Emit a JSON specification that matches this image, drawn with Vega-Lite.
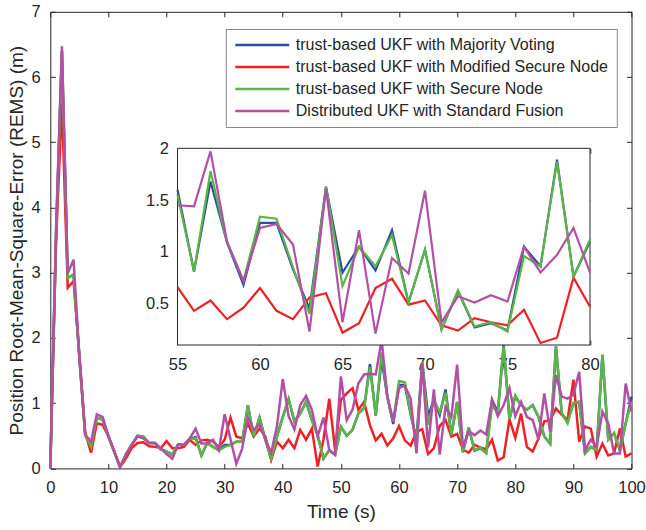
{
"$schema": "https://vega.github.io/schema/vega-lite/v6.json",
"width": 581.2, "height": 456.6,
"autosize": "none",
"padding": {"left": 50.3, "top": 11.8, "right": 14.5, "bottom": 61.6},
"background": "white",
"config": {
  "view": {"stroke": "#262626", "strokeWidth": 1},
  "font": "Liberation Sans",
  "axis": {"labelFont": "Liberation Sans", "titleFont": "Liberation Sans", "labelColor": "#262626", "titleColor": "#262626", "tickColor": "#262626", "domainColor": "#262626", "grid": false, "titleFontWeight": "normal", "labelFontSize": 16.5, "titleFontSize": 19, "labelFlush": false, "labelOverlap": false}
},
"datasets": {
"box": [{"t": 55, "t2": 80, "v": 0.1, "v2": 2}],
"d": [
{"t":0,"s":"A","v":0},{"t":1,"s":"A","v":3.6},{"t":2,"s":"A","v":6.4},{"t":3,"s":"A","v":2.92},{"t":4,"s":"A","v":2.97},{"t":5,"s":"A","v":1.7},{"t":6,"s":"A","v":0.52},{"t":7,"s":"A","v":0.33},{"t":8,"s":"A","v":0.78},{"t":9,"s":"A","v":0.75},
{"t":10,"s":"A","v":0.49},{"t":11,"s":"A","v":0.26},{"t":12,"s":"A","v":0.02},{"t":13,"s":"A","v":0.21},{"t":14,"s":"A","v":0.36},{"t":15,"s":"A","v":0.5},{"t":16,"s":"A","v":0.49},{"t":17,"s":"A","v":0.39},{"t":18,"s":"A","v":0.39},{"t":19,"s":"A","v":0.29},
{"t":20,"s":"A","v":0.26},{"t":21,"s":"A","v":0.21},{"t":22,"s":"A","v":0.37},{"t":23,"s":"A","v":0.36},{"t":24,"s":"A","v":0.45},{"t":25,"s":"A","v":0.48},{"t":26,"s":"A","v":0.2},{"t":27,"s":"A","v":0.39},{"t":28,"s":"A","v":0.33},{"t":29,"s":"A","v":0.28},
{"t":30,"s":"A","v":0.36},{"t":31,"s":"A","v":0.36},{"t":32,"s":"A","v":0.41},{"t":33,"s":"A","v":0.41},{"t":34,"s":"A","v":0.97},{"t":35,"s":"A","v":0.49},{"t":36,"s":"A","v":0.78},{"t":37,"s":"A","v":0.44},{"t":38,"s":"A","v":0.15},{"t":39,"s":"A","v":0.49},
{"t":40,"s":"A","v":0.79},{"t":41,"s":"A","v":1.06},{"t":42,"s":"A","v":0.72},{"t":43,"s":"A","v":0.84},{"t":44,"s":"A","v":1.02},{"t":45,"s":"A","v":0.74},{"t":46,"s":"A","v":0.51},{"t":47,"s":"A","v":0.15},{"t":48,"s":"A","v":0.28},{"t":49,"s":"A","v":0.21},
{"t":50,"s":"A","v":0.64},{"t":51,"s":"A","v":0.5},{"t":52,"s":"A","v":0.59},{"t":53,"s":"A","v":0.84},{"t":54,"s":"A","v":0.93},{"t":55,"s":"A","v":1.6},{"t":56,"s":"A","v":0.81},{"t":57,"s":"A","v":1.68},{"t":58,"s":"A","v":1.09},{"t":59,"s":"A","v":0.68},
{"t":60,"s":"A","v":1.28},{"t":61,"s":"A","v":1.28},{"t":62,"s":"A","v":0.83},{"t":63,"s":"A","v":0.45},{"t":64,"s":"A","v":1.63},{"t":65,"s":"A","v":0.8},{"t":66,"s":"A","v":1.05},{"t":67,"s":"A","v":0.82},{"t":68,"s":"A","v":1.21},{"t":69,"s":"A","v":0.51},
{"t":70,"s":"A","v":1.02},{"t":71,"s":"A","v":0.25},{"t":72,"s":"A","v":0.62},{"t":73,"s":"A","v":0.27},{"t":74,"s":"A","v":0.31},{"t":75,"s":"A","v":0.24},{"t":76,"s":"A","v":1.05},{"t":77,"s":"A","v":0.86},{"t":78,"s":"A","v":1.89},{"t":79,"s":"A","v":0.76},
{"t":80,"s":"A","v":1.1},{"t":81,"s":"A","v":0.97},{"t":82,"s":"A","v":0.9},{"t":83,"s":"A","v":0.97},{"t":84,"s":"A","v":0.79},{"t":85,"s":"A","v":0.49},{"t":86,"s":"A","v":0.38},{"t":87,"s":"A","v":1.87},{"t":88,"s":"A","v":0.84},{"t":89,"s":"A","v":0.72},
{"t":90,"s":"A","v":1.0},{"t":91,"s":"A","v":1.02},{"t":92,"s":"A","v":0.23},{"t":93,"s":"A","v":0.33},{"t":94,"s":"A","v":0.28},{"t":95,"s":"A","v":1.74},{"t":96,"s":"A","v":0.44},{"t":97,"s":"A","v":0.54},{"t":98,"s":"A","v":0.28},{"t":99,"s":"A","v":0.69},{"t":100,"s":"A","v":1.1},
{"t":0,"s":"B","v":0},{"t":1,"s":"B","v":3.5},{"t":2,"s":"B","v":5.6},{"t":3,"s":"B","v":2.77},{"t":4,"s":"B","v":2.87},{"t":5,"s":"B","v":1.75},{"t":6,"s":"B","v":0.55},{"t":7,"s":"B","v":0.24},{"t":8,"s":"B","v":0.69},{"t":9,"s":"B","v":0.67},
{"t":10,"s":"B","v":0.49},{"t":11,"s":"B","v":0.26},{"t":12,"s":"B","v":0.02},{"t":13,"s":"B","v":0.15},{"t":14,"s":"B","v":0.31},{"t":15,"s":"B","v":0.39},{"t":16,"s":"B","v":0.4},{"t":17,"s":"B","v":0.34},{"t":18,"s":"B","v":0.33},{"t":19,"s":"B","v":0.31},
{"t":20,"s":"B","v":0.42},{"t":21,"s":"B","v":0.31},{"t":22,"s":"B","v":0.31},{"t":23,"s":"B","v":0.33},{"t":24,"s":"B","v":0.44},{"t":25,"s":"B","v":0.36},{"t":26,"s":"B","v":0.43},{"t":27,"s":"B","v":0.44},{"t":28,"s":"B","v":0.41},{"t":29,"s":"B","v":0.33},
{"t":30,"s":"B","v":0.44},{"t":31,"s":"B","v":0.78},{"t":32,"s":"B","v":0.49},{"t":33,"s":"B","v":0.46},{"t":34,"s":"B","v":0.69},{"t":35,"s":"B","v":0.49},{"t":36,"s":"B","v":0.61},{"t":37,"s":"B","v":0.49},{"t":38,"s":"B","v":0.13},{"t":39,"s":"B","v":0.41},
{"t":40,"s":"B","v":0.31},{"t":41,"s":"B","v":0.44},{"t":42,"s":"B","v":0.31},{"t":43,"s":"B","v":0.59},{"t":44,"s":"B","v":0.44},{"t":45,"s":"B","v":0.61},{"t":46,"s":"B","v":0.03},{"t":47,"s":"B","v":0.44},{"t":48,"s":"B","v":1.07},{"t":49,"s":"B","v":0.28},
{"t":50,"s":"B","v":1.05},{"t":51,"s":"B","v":1.15},{"t":52,"s":"B","v":1.23},{"t":53,"s":"B","v":0.9},{"t":54,"s":"B","v":1.02},{"t":55,"s":"B","v":0.66},{"t":56,"s":"B","v":0.43},{"t":57,"s":"B","v":0.53},{"t":58,"s":"B","v":0.35},{"t":59,"s":"B","v":0.46},
{"t":60,"s":"B","v":0.65},{"t":61,"s":"B","v":0.43},{"t":62,"s":"B","v":0.35},{"t":63,"s":"B","v":0.56},{"t":64,"s":"B","v":0.6},{"t":65,"s":"B","v":0.22},{"t":66,"s":"B","v":0.31},{"t":67,"s":"B","v":0.65},{"t":68,"s":"B","v":0.74},{"t":69,"s":"B","v":0.49},
{"t":70,"s":"B","v":0.53},{"t":71,"s":"B","v":0.29},{"t":72,"s":"B","v":0.24},{"t":73,"s":"B","v":0.36},{"t":74,"s":"B","v":0.32},{"t":75,"s":"B","v":0.29},{"t":76,"s":"B","v":0.44},{"t":77,"s":"B","v":0.12},{"t":78,"s":"B","v":0.17},{"t":79,"s":"B","v":0.75},
{"t":80,"s":"B","v":0.47},{"t":81,"s":"B","v":0.84},{"t":82,"s":"B","v":0.33},{"t":83,"s":"B","v":0.26},{"t":84,"s":"B","v":0.46},{"t":85,"s":"B","v":0.72},{"t":86,"s":"B","v":0.74},{"t":87,"s":"B","v":0.92},{"t":88,"s":"B","v":0.82},{"t":89,"s":"B","v":0.74},
{"t":90,"s":"B","v":1.36},{"t":91,"s":"B","v":0.41},{"t":92,"s":"B","v":0.64},{"t":93,"s":"B","v":0.61},{"t":94,"s":"B","v":0.18},{"t":95,"s":"B","v":0.38},{"t":96,"s":"B","v":0.2},{"t":97,"s":"B","v":0.23},{"t":98,"s":"B","v":0.61},{"t":99,"s":"B","v":0.18},{"t":100,"s":"B","v":0.23},
{"t":0,"s":"C","v":0},{"t":1,"s":"C","v":3.6},{"t":2,"s":"C","v":6.4},{"t":3,"s":"C","v":2.92},{"t":4,"s":"C","v":2.97},{"t":5,"s":"C","v":1.7},{"t":6,"s":"C","v":0.52},{"t":7,"s":"C","v":0.33},{"t":8,"s":"C","v":0.78},{"t":9,"s":"C","v":0.75},
{"t":10,"s":"C","v":0.49},{"t":11,"s":"C","v":0.26},{"t":12,"s":"C","v":0.02},{"t":13,"s":"C","v":0.21},{"t":14,"s":"C","v":0.36},{"t":15,"s":"C","v":0.5},{"t":16,"s":"C","v":0.49},{"t":17,"s":"C","v":0.39},{"t":18,"s":"C","v":0.39},{"t":19,"s":"C","v":0.29},
{"t":20,"s":"C","v":0.26},{"t":21,"s":"C","v":0.21},{"t":22,"s":"C","v":0.37},{"t":23,"s":"C","v":0.36},{"t":24,"s":"C","v":0.45},{"t":25,"s":"C","v":0.46},{"t":26,"s":"C","v":0.2},{"t":27,"s":"C","v":0.39},{"t":28,"s":"C","v":0.33},{"t":29,"s":"C","v":0.28},
{"t":30,"s":"C","v":0.33},{"t":31,"s":"C","v":0.36},{"t":32,"s":"C","v":0.41},{"t":33,"s":"C","v":0.41},{"t":34,"s":"C","v":0.97},{"t":35,"s":"C","v":0.49},{"t":36,"s":"C","v":0.78},{"t":37,"s":"C","v":0.44},{"t":38,"s":"C","v":0.15},{"t":39,"s":"C","v":0.49},
{"t":40,"s":"C","v":0.79},{"t":41,"s":"C","v":1.06},{"t":42,"s":"C","v":0.72},{"t":43,"s":"C","v":0.84},{"t":44,"s":"C","v":1.02},{"t":45,"s":"C","v":0.74},{"t":46,"s":"C","v":0.51},{"t":47,"s":"C","v":0.15},{"t":48,"s":"C","v":0.28},{"t":49,"s":"C","v":0.21},
{"t":50,"s":"C","v":0.64},{"t":51,"s":"C","v":0.5},{"t":52,"s":"C","v":0.59},{"t":53,"s":"C","v":0.84},{"t":54,"s":"C","v":0.92},{"t":55,"s":"C","v":1.55},{"t":56,"s":"C","v":0.81},{"t":57,"s":"C","v":1.78},{"t":58,"s":"C","v":1.09},{"t":59,"s":"C","v":0.72},
{"t":60,"s":"C","v":1.34},{"t":61,"s":"C","v":1.32},{"t":62,"s":"C","v":0.85},{"t":63,"s":"C","v":0.4},{"t":64,"s":"C","v":1.63},{"t":65,"s":"C","v":0.67},{"t":66,"s":"C","v":1.05},{"t":67,"s":"C","v":0.86},{"t":68,"s":"C","v":1.16},{"t":69,"s":"C","v":0.51},
{"t":70,"s":"C","v":1.02},{"t":71,"s":"C","v":0.25},{"t":72,"s":"C","v":0.63},{"t":73,"s":"C","v":0.28},{"t":74,"s":"C","v":0.32},{"t":75,"s":"C","v":0.23},{"t":76,"s":"C","v":0.96},{"t":77,"s":"C","v":0.86},{"t":78,"s":"C","v":1.87},{"t":79,"s":"C","v":0.76},
{"t":80,"s":"C","v":1.12},{"t":81,"s":"C","v":0.97},{"t":82,"s":"C","v":0.9},{"t":83,"s":"C","v":0.97},{"t":84,"s":"C","v":0.79},{"t":85,"s":"C","v":0.49},{"t":86,"s":"C","v":0.38},{"t":87,"s":"C","v":1.87},{"t":88,"s":"C","v":0.84},{"t":89,"s":"C","v":0.69},
{"t":90,"s":"C","v":1.0},{"t":91,"s":"C","v":1.02},{"t":92,"s":"C","v":0.23},{"t":93,"s":"C","v":0.33},{"t":94,"s":"C","v":0.28},{"t":95,"s":"C","v":1.74},{"t":96,"s":"C","v":0.44},{"t":97,"s":"C","v":0.54},{"t":98,"s":"C","v":0.28},{"t":99,"s":"C","v":0.69},{"t":100,"s":"C","v":1.02},
{"t":0,"s":"D","v":0},{"t":1,"s":"D","v":3.7},{"t":2,"s":"D","v":6.47},{"t":3,"s":"D","v":2.99},{"t":4,"s":"D","v":3.2},{"t":5,"s":"D","v":1.72},{"t":6,"s":"D","v":0.52},{"t":7,"s":"D","v":0.41},{"t":8,"s":"D","v":0.83},{"t":9,"s":"D","v":0.79},
{"t":10,"s":"D","v":0.5},{"t":11,"s":"D","v":0.26},{"t":12,"s":"D","v":0.02},{"t":13,"s":"D","v":0.21},{"t":14,"s":"D","v":0.36},{"t":15,"s":"D","v":0.49},{"t":16,"s":"D","v":0.46},{"t":17,"s":"D","v":0.39},{"t":18,"s":"D","v":0.39},{"t":19,"s":"D","v":0.31},
{"t":20,"s":"D","v":0.22},{"t":21,"s":"D","v":0.15},{"t":22,"s":"D","v":0.37},{"t":23,"s":"D","v":0.36},{"t":24,"s":"D","v":0.46},{"t":25,"s":"D","v":0.61},{"t":26,"s":"D","v":0.38},{"t":27,"s":"D","v":0.38},{"t":28,"s":"D","v":0.44},{"t":29,"s":"D","v":0.28},
{"t":30,"s":"D","v":0.83},{"t":31,"s":"D","v":0.45},{"t":32,"s":"D","v":0.07},{"t":33,"s":"D","v":0.3},{"t":34,"s":"D","v":0.78},{"t":35,"s":"D","v":0.59},{"t":36,"s":"D","v":0.67},{"t":37,"s":"D","v":0.45},{"t":38,"s":"D","v":0.24},{"t":39,"s":"D","v":0.65},
{"t":40,"s":"D","v":1.37},{"t":41,"s":"D","v":0.8},{"t":42,"s":"D","v":0.6},{"t":43,"s":"D","v":0.97},{"t":44,"s":"D","v":1.11},{"t":45,"s":"D","v":0.9},{"t":46,"s":"D","v":0.49},{"t":47,"s":"D","v":0.78},{"t":48,"s":"D","v":0.28},{"t":49,"s":"D","v":0.21},
{"t":50,"s":"D","v":1.41},{"t":51,"s":"D","v":0.74},{"t":52,"s":"D","v":0.9},{"t":53,"s":"D","v":1.3},{"t":54,"s":"D","v":1.44},{"t":55,"s":"D","v":1.45},{"t":56,"s":"D","v":1.44},{"t":57,"s":"D","v":1.97},{"t":58,"s":"D","v":1.1},{"t":59,"s":"D","v":0.72},
{"t":60,"s":"D","v":1.23},{"t":61,"s":"D","v":1.27},{"t":62,"s":"D","v":1.07},{"t":63,"s":"D","v":0.23},{"t":64,"s":"D","v":1.61},{"t":65,"s":"D","v":0.32},{"t":66,"s":"D","v":1.21},{"t":67,"s":"D","v":0.21},{"t":68,"s":"D","v":0.94},{"t":69,"s":"D","v":0.79},
{"t":70,"s":"D","v":1.59},{"t":71,"s":"D","v":0.32},{"t":72,"s":"D","v":0.57},{"t":73,"s":"D","v":0.51},{"t":74,"s":"D","v":0.58},{"t":75,"s":"D","v":0.52},{"t":76,"s":"D","v":1.05},{"t":77,"s":"D","v":0.8},{"t":78,"s":"D","v":0.97},{"t":79,"s":"D","v":1.23},
{"t":80,"s":"D","v":0.8},{"t":81,"s":"D","v":1.02},{"t":82,"s":"D","v":0.79},{"t":83,"s":"D","v":0.74},{"t":84,"s":"D","v":0.44},{"t":85,"s":"D","v":1.15},{"t":86,"s":"D","v":0.56},{"t":87,"s":"D","v":1.43},{"t":88,"s":"D","v":1.1},{"t":89,"s":"D","v":1.07},
{"t":90,"s":"D","v":1.13},{"t":91,"s":"D","v":1.48},{"t":92,"s":"D","v":0.28},{"t":93,"s":"D","v":0.44},{"t":94,"s":"D","v":0.33},{"t":95,"s":"D","v":0.87},{"t":96,"s":"D","v":0.69},{"t":97,"s":"D","v":0.23},{"t":98,"s":"D","v":0.23},{"t":99,"s":"D","v":1.3},{"t":100,"s":"D","v":0.87}
]
},
"resolve": {"scale": {"x": "independent", "y": "independent"}, "axis": {"x": "independent", "y": "independent"}},
"layer": [
{
  "data": {"name": "d"},
  "mark": {"type": "line", "strokeWidth": 2.5},
  "encoding": {
    "x": {"field": "t", "type": "quantitative", "scale": {"domain": [0, 100], "nice": false, "zero": false},
          "axis": {"orient": "bottom", "values": [0,10,20,30,40,50,60,70,80,90,100], "title": "Time (s)", "tickSize": -5, "labelPadding": 16, "domain": false, "titlePadding": 7}},
    "y": {"field": "v", "type": "quantitative", "scale": {"domain": [0, 7], "nice": false},
          "axis": {"orient": "left", "values": [0,1,2,3,4,5,6,7], "title": "Position Root-Mean-Square-Error (REMS) (m)", "tickSize": -5, "labelPadding": 15, "domain": false, "titlePadding": 5}},
    "color": {"field": "s", "type": "nominal",
      "scale": {"domain": ["A","B","C","D"], "range": ["#2D4EA2","#EE2024","#5DB546","#B34FA5"]},
      "legend": {"orient": "none", "legendX": 175.5, "legendY": 17.2, "title": null, "symbolType": "stroke", "symbolSize": 2916, "symbolStrokeWidth": 2.5, "clipHeight": 16, "rowPadding": 6, "labelFontSize": 16, "labelFont": "Liberation Sans", "labelColor": "#262626", "padding": 8, "fillColor": "white", "strokeColor": "#888888", "labelOffset": 5, "labelLimit": 500,
        "labelExpr": "datum.value == 'A' ? '\u2002trust-based UKF with Majority Voting' : datum.value == 'B' ? 'trust-based UKF with Modified Secure Node' : datum.value == 'C' ? 'trust-based UKF with Secure Node' : 'Distributed UKF with Standard Fusion'"}}
  }
},
{
  "data": {"name": "box"},
  "mark": {"type": "point", "opacity": 0},
  "encoding": {
    "x": {"field": "t", "type": "quantitative", "scale": {"domain": [0, 100], "nice": false, "zero": false},
          "axis": {"orient": "top", "values": [0,10,20,30,40,50,60,70,80,90,100], "title": null, "labels": false, "tickSize": -5, "domain": false}},
    "y": {"field": "v", "type": "quantitative", "scale": {"domain": [0, 7], "nice": false},
          "axis": {"orient": "right", "values": [0,1,2,3,4,5,6,7], "title": null, "labels": false, "tickSize": -5, "domain": false}}
  }
},
{
  "layer": [
    {
      "data": {"name": "box"},
      "mark": {"type": "rect", "fill": "white", "stroke": "#262626", "strokeWidth": 1},
      "encoding": {
        "x": {"field": "t", "type": "quantitative", "scale": {"domain": [55, 80], "range": [127.2, 539.7], "nice": false, "zero": false},
              "axis": {"orient": "bottom", "offset": -123.4, "values": [55,60,65,70,75,80], "title": null, "tickSize": -5, "labelPadding": 16, "domain": false}},
        "x2": {"field": "t2"},
        "y": {"field": "v", "type": "quantitative", "scale": {"domain": [0.1, 2], "range": [333.2, 136.5], "nice": false, "zero": false},
              "axis": {"orient": "left", "offset": -127.2, "values": [0.5,1,1.5,2], "format": "~g", "title": null, "tickSize": -5, "labelPadding": 14, "domain": false}},
        "y2": {"field": "v2"}
      }
    },
    {
      "data": {"name": "d"},
      "transform": [{"filter": "datum.t >= 55 && datum.t <= 80"}],
      "mark": {"type": "line", "strokeWidth": 2.2},
      "encoding": {
        "x": {"field": "t", "type": "quantitative"},
        "y": {"field": "v", "type": "quantitative"},
        "color": {"field": "s", "type": "nominal"}
      }
    }
  ]
},
{
  "data": {"name": "box"},
  "mark": {"type": "point", "opacity": 0},
  "encoding": {
    "x": {"field": "t", "type": "quantitative", "scale": {"domain": [55, 80], "range": [127.2, 539.7], "nice": false, "zero": false},
          "axis": {"orient": "top", "offset": -136.5, "values": [55,60,65,70,75,80], "title": null, "labels": false, "tickSize": -5, "domain": false}},
    "y": {"field": "v", "type": "quantitative", "scale": {"domain": [0.1, 2], "range": [333.2, 136.5], "nice": false, "zero": false},
          "axis": {"orient": "right", "offset": -41.5, "values": [0.5,1,1.5,2], "title": null, "labels": false, "tickSize": -5, "domain": false}}
  }
}
]
}
